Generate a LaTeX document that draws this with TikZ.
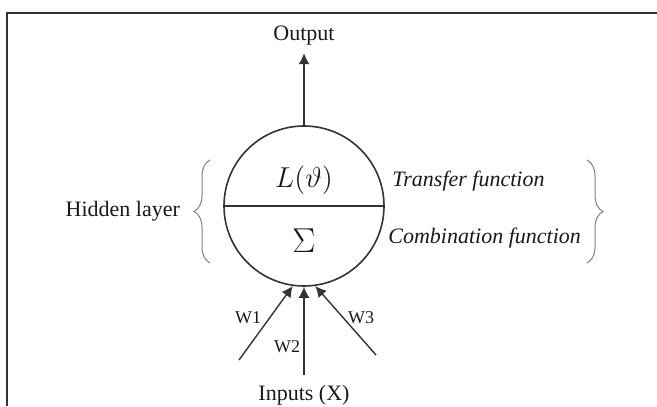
\documentclass[tikz,border=0pt]{standalone}
\usepackage{fontspec}
\setmainfont{Liberation Serif}
\usetikzlibrary{arrows.meta, positioning, decorations.pathreplacing}
\definecolor{linegray}{HTML}{333333}
\definecolor{bracegray}{HTML}{808080}

\begin{document}
\begin{tikzpicture}[
  x=0.5pt, y=-0.5pt,
  neuron/.style={circle, draw=linegray, line width=0.8pt, minimum size=80pt, inner sep=0pt},
  txt/.style={font=\fontsize{11}{13}\selectfont, text=black!90},
  func/.style={font=\fontsize{11}{13}\selectfont\itshape, text=black!90, anchor=west, inner sep=0pt},
  sym/.style={font=\fontsize{13.5}{15}\selectfont, text=black!90},
  wlbl/.style={font=\fontsize{9}{10}\selectfont, text=black!90},
  arr/.style={-{Latex[length=5.5pt, width=5.5pt]}, line width=0.7pt, color=linegray},
  brc/.style={decorate, decoration={brace, amplitude=8pt}, line width=0.5pt, color=bracegray},
  node distance=36pt
]
\useasboundingbox (0,0) rectangle (657,406);

% Frame
\draw[linegray, line width=1pt] (7,406) -- (7,13) -- (657,13);

% Neuron
\node[neuron] (neuron) at (304,206) {};
\draw[linegray, line width=0.8pt] (neuron.west) -- (neuron.east);
\node[sym] (transfer) at (304,180) {$L(\vartheta)$};
\node[sym, font=\fontsize{17}{19}\selectfont] (comb) at (304,241) {$\Sigma$};

% Output
\node[txt, inner sep=4pt, above=36pt of neuron.north] (output) {Output};
\draw[arr] (neuron.north) -- (output.south);

% Inputs
\node[txt, inner sep=5pt, below=44pt of neuron.south] (inputs) {Inputs (X)};
\coordinate (in1) at (239,360);
\coordinate (in3) at (376,355);
\draw[arr] (in1) -- (neuron.262);
\draw[arr] (inputs.north) -- (neuron.south);
\draw[arr] (in3) -- (neuron.278);
\node[wlbl] (w1) at (248,318) {W1};
\node[wlbl] (w2) at (287,347) {W2};
\node[wlbl] (w3) at (361,318) {W3};

% Hidden layer
\coordinate (lbtop) at (210,160);
\coordinate (lbbot) at (210,263);
\draw[brc] (lbbot) -- (lbtop);
\node[txt, anchor=east] (hidden) at (187,211) {Hidden layer};

% Functions
\node[func] (transferlbl) at (392,181) {Transfer function};
\node[func] (comblbl) at (388,238) {Combination function};
\coordinate (rbtop) at (587,160);
\coordinate (rbbot) at (587,263);
\draw[brc] (rbtop) -- (rbbot);

\end{tikzpicture}
\end{document}
